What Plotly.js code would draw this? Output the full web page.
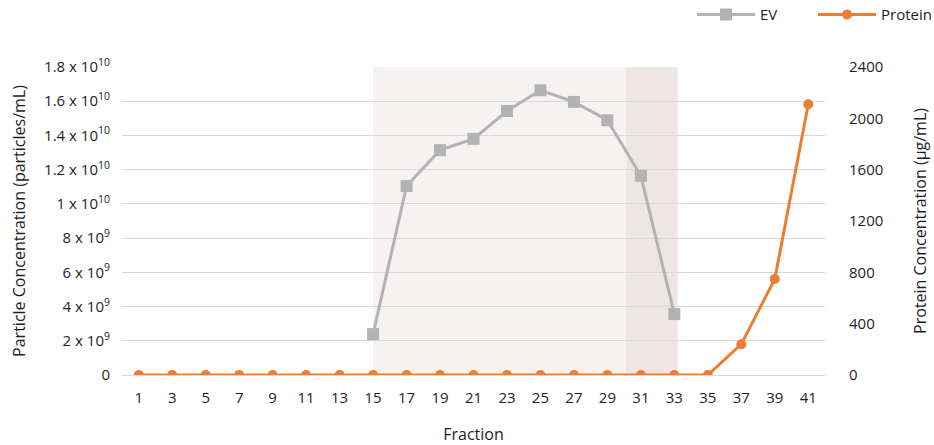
<!DOCTYPE html>
<html>
<head>
<meta charset="utf-8">
<script src="https://cdn.plot.ly/plotly-3.0.1.min.js"></script>
<style>html,body{margin:0;padding:0;background:#fff;}#chart{width:934px;height:445px;}</style>
</head>
<body>
<div id="chart"></div>
<script>
const fractions = [1,3,5,7,9,11,13,15,17,19,21,23,25,27,29,31,33,35,37,39,41];
const evFractions = [15,17,19,21,23,25,27,29,31,33];
const evValues = [2.39e9,1.104e10,1.314e10,1.38e10,1.543e10,1.664e10,1.596e10,1.489e10,1.164e10,3.56e9];
const proteinValues = [0,0,0,0,0,0,0,0,0,0,0,0,0,0,0,0,0,0,240,748,2110];
const leftTickVals = [0,2e9,4e9,6e9,8e9,1e10,1.2e10,1.4e10,1.6e10,1.8e10];
const leftTickText = ['0','2 x 10<sup>9</sup>','4 x 10<sup>9</sup>','6 x 10<sup>9</sup>','8 x 10<sup>9</sup>','1 x 10<sup>10</sup>','1.2 x 10<sup>10</sup>','1.4 x 10<sup>10</sup>','1.6 x 10<sup>10</sup>','1.8 x 10<sup>10</sup>'];
const rightTickVals = [0,400,800,1200,1600,2000,2400];
const bandLight = [15, 30.1];
const bandDark = [30.1, 33.2];

const font = {family: '"Open Sans", "Noto Sans", sans-serif', size: 15, color: '#1e1e1e'};

const traces = [
  {x: evFractions, y: evValues, name: 'EV', type: 'scatter', mode: 'lines+markers',
   line: {color: '#b3b3b3', width: 3}, marker: {symbol: 'square', size: 12, color: '#b3b3b3'}, yaxis: 'y'},
  {x: fractions, y: proteinValues, name: 'Protein', type: 'scatter', mode: 'lines+markers',
   line: {color: '#ed7d31', width: 3}, marker: {symbol: 'circle', size: 10, color: '#ed7d31'}, yaxis: 'y2'}
];

const layout = {
  width: 934, height: 445,
  margin: {l: 122, r: 109, t: 67, b: 70, autoexpand: false},
  paper_bgcolor: '#fff', plot_bgcolor: '#fff',
  font: font,
  showlegend: true,
  legend: {orientation: 'h', xref: 'container', yref: 'container', x: 1.0, xanchor: 'right', y: 0.967, yanchor: 'middle',
           font: {size: 15, color: '#1e1e1e'}, itemwidth: 58, entrywidth: 48, entrywidthmode: 'pixels', traceorder: 'normal'},
  xaxis: {range: [0, 42], tickvals: fractions, ticktext: fractions.map(String), showgrid: false, zeroline: false,
          showline: false, ticks: 'outside', ticklen: 9, tickcolor: 'rgba(0,0,0,0)',
          title: {text: 'Fraction', font: {size: 16, color: '#1e1e1e'}, standoff: 26}},
  yaxis: {range: [0, 1.8e10], tickvals: leftTickVals, ticktext: leftTickText, showgrid: true, gridcolor: '#d9d9d9', gridwidth: 1,
          zeroline: true, zerolinecolor: '#d9d9d9', zerolinewidth: 1, ticks: 'outside', ticklen: 8, tickcolor: 'rgba(0,0,0,0)',
          title: {text: 'Particle Concentration (particles/mL)', font: {size: 16, color: '#1e1e1e'}, standoff: 14}},
  yaxis2: {range: [0, 2400], tickvals: rightTickVals, overlaying: 'y', side: 'right', showgrid: false, zeroline: false,
           ticks: 'outside', ticklen: 20, tickcolor: 'rgba(0,0,0,0)',
           title: {text: 'Protein Concentration (μg/mL)', font: {size: 16, color: '#1e1e1e'}, standoff: 32}},
  shapes: [
    {type: 'rect', xref: 'x', yref: 'paper', x0: bandLight[0], x1: bandLight[1], y0: 0, y1: 1, fillcolor: '#f6f2f2', line: {width: 0}, layer: 'below'},
    {type: 'rect', xref: 'x', yref: 'paper', x0: bandDark[0], x1: bandDark[1], y0: 0, y1: 1, fillcolor: '#ece7e4', line: {width: 0}, layer: 'below'}
  ]
};

Plotly.newPlot('chart', traces, layout, {displayModeBar: false, staticPlot: true});
</script>
</body>
</html>
